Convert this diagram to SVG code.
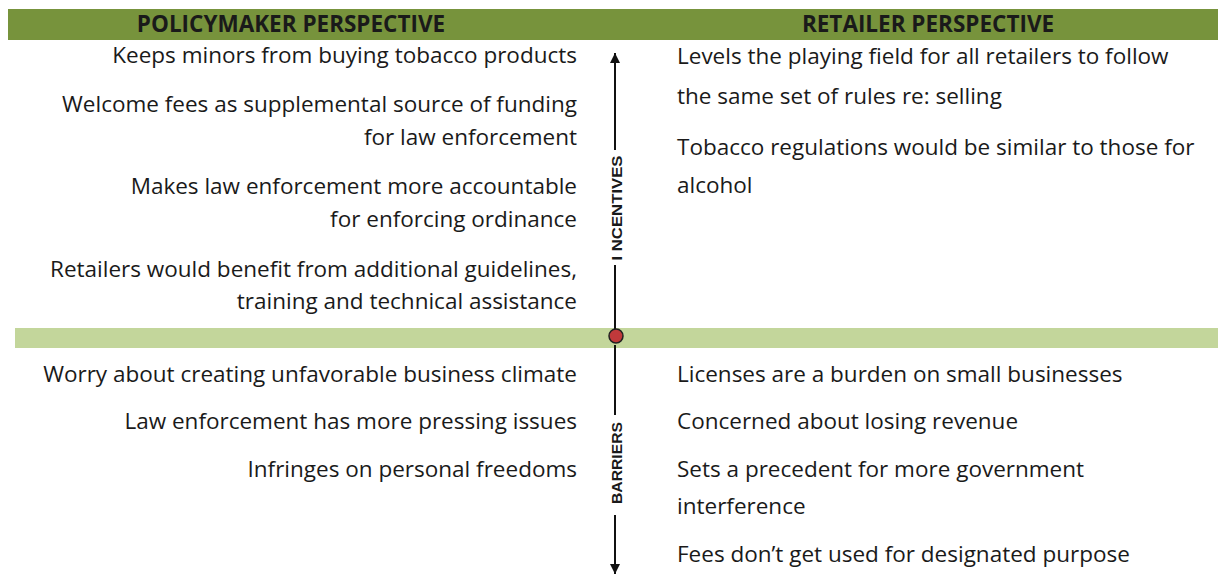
<svg xmlns="http://www.w3.org/2000/svg" width="1218" height="576" viewBox="0 0 1218 576">
<style>
.t{font-family:"Open Sans","Liberation Sans",sans-serif;font-size:22.5px;fill:#1a1a1a}
.l{text-anchor:end}
.h{font-family:"Open Sans","Liberation Sans",sans-serif;font-size:22.5px;font-weight:bold;fill:#1a1a1a;text-anchor:middle}
.ax{font-family:"Liberation Sans",sans-serif;font-size:15px;font-weight:bold;fill:#1a1a1a;text-anchor:middle}
.ln{stroke:#111;stroke-width:2;fill:none}
</style>
<defs>
<marker id="ah" viewBox="0 0 10 10" refX="10" refY="5" markerWidth="5" markerHeight="5" orient="auto" markerUnits="strokeWidth">
<path d="M0,0 L10,5 L0,10 z" fill="#111"/>
</marker>
</defs>
<rect width="1218" height="576" fill="#fff"/>
<g id="header">
<rect x="8" y="9" width="1210" height="31" fill="#77933C"/>
<text class="h" x="291" y="32">POLICYMAKER PERSPECTIVE</text>
<text class="h" x="928" y="32">RETAILER PERSPECTIVE</text>
</g>
<g id="divider">
<rect x="15" y="328" width="1203" height="20" fill="#C3D69B"/>
</g>
<g id="connectors">
<line class="ln" x1="615" y1="150" x2="615" y2="53" marker-end="url(#ah)"/>
<line class="ln" x1="615" y1="265" x2="615" y2="330"/>
<line class="ln" x1="615" y1="345" x2="615" y2="415"/>
<line class="ln" x1="615" y1="515" x2="615" y2="574" marker-end="url(#ah)"/>
</g>
<g id="axis-labels">
<text class="ax" transform="translate(622,208) rotate(-90)" textLength="105" lengthAdjust="spacingAndGlyphs">I NCENTIVES</text>
<text class="ax" transform="translate(622,463) rotate(-90)" textLength="82" lengthAdjust="spacingAndGlyphs">BARRIERS</text>
</g>
<g id="origin">
<circle cx="616" cy="336" r="7" fill="#C0393B" stroke="#222" stroke-width="1.5"/>
</g>
<g id="policymaker-incentives">
<text class="t l" x="577" y="63">Keeps minors from buying tobacco products</text>
<text class="t l" x="577" y="112">Welcome fees as supplemental source of funding</text>
<text class="t l" x="577" y="145">for law enforcement</text>
<text class="t l" x="577" y="194">Makes law enforcement more accountable</text>
<text class="t l" x="577" y="227">for enforcing ordinance</text>
<text class="t l" x="577" y="277">Retailers would benefit from additional guidelines,</text>
<text class="t l" x="577" y="309">training and technical assistance</text>
</g>
<g id="policymaker-barriers">
<text class="t l" x="577" y="382">Worry about creating unfavorable business climate</text>
<text class="t l" x="577" y="429">Law enforcement has more pressing issues</text>
<text class="t l" x="577" y="477">Infringes on personal freedoms</text>
</g>
<g id="retailer-incentives">
<text class="t" x="677" y="64">Levels the playing field for all retailers to follow</text>
<text class="t" x="677" y="104">the same set of rules re: selling</text>
<text class="t" x="677" y="155">Tobacco regulations would be similar to those for</text>
<text class="t" x="677" y="193">alcohol</text>
</g>
<g id="retailer-barriers">
<text class="t" x="677" y="382">Licenses are a burden on small businesses</text>
<text class="t" x="677" y="429">Concerned about losing revenue</text>
<text class="t" x="677" y="477">Sets a precedent for more government</text>
<text class="t" x="677" y="514">interference</text>
<text class="t" x="677" y="562">Fees don’t get used for designated purpose</text>
</g>
</svg>
